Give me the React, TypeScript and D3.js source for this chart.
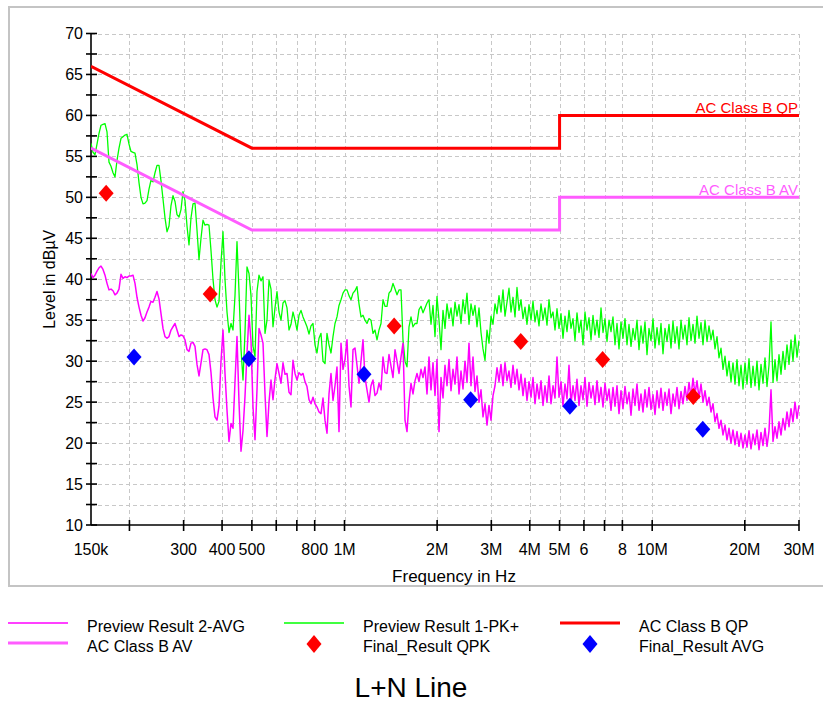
import React, { useEffect, useRef } from "react";
import * as d3 from "d3";

// sweep of the preview scans (MHz), one reading per step
const sweepStart = 0.15;
const sweepStop = 30;

// Preview Result 1-PK+ (dBµV)
const pkLevels = [
  56.6, 55.5, 55.2, 56.5, 57.8, 58.8, 58.9, 59.0, 58.0, 54.3,
  53.8, 53.0, 52.5, 54.5, 56.0, 57.2, 57.4, 57.6, 57.7, 56.5,
  55.6, 55.5, 55.4, 54.0, 51.8, 50.0, 49.2, 49.3, 49.6, 51.0,
  52.1, 51.9, 53.0, 53.9, 53.9, 52.0, 49.8, 47.5, 45.8, 46.5,
  49.0, 50.2, 49.5, 47.9, 47.6, 48.5, 50.7, 49.6, 46.5, 44.2,
  47.5, 49.2, 49.3, 46.0, 42.4, 45.0, 47.2, 46.6, 46.7, 46.6,
  43.5, 40.0, 37.5, 36.6, 37.3, 42.0, 45.8, 40.0, 36.0, 33.5,
  34.6, 33.8, 38.0, 44.6, 38.5, 31.5, 27.7, 33.5, 41.5, 40.7,
  38.0, 31.8, 30.6, 38.5, 40.5, 39.8, 40.3, 33.4, 35.0, 39.9,
  38.8, 34.2, 36.5, 38.5, 36.0, 35.0, 37.1, 37.4, 36.5, 33.8,
  34.5, 36.0, 35.0, 33.8, 35.6, 36.2, 35.4, 34.8, 34.2, 33.3,
  34.3, 34.6, 32.0, 31.0, 32.8, 33.4, 30.0, 29.7, 33.4, 32.0,
  31.0, 33.0, 34.6, 35.4, 36.8, 37.5, 38.3, 38.7, 38.7, 38.0,
  37.5, 38.3, 38.6, 39.1, 37.0, 35.4, 35.6, 35.0, 34.6, 35.2,
  35.0, 33.4, 33.8, 32.6, 33.8, 34.6, 37.5, 36.7, 36.7, 38.3,
  38.6, 39.5, 38.8, 38.1, 38.7, 38.7, 32.6, 30.0, 29.3, 34.2,
  35.4, 34.2, 34.6, 34.6, 36.3, 36.7, 35.9, 36.5, 37.1, 37.5,
  34.5, 36.8, 33.0, 37.9, 35.0, 31.4, 36.2, 34.0, 37.0, 35.2,
  36.5, 34.3, 37.2, 35.5, 36.9, 34.6, 37.5, 35.8, 38.3, 34.5,
  37.0, 35.6, 36.8, 34.2, 36.5, 33.5, 31.5, 30.1, 33.8, 32.2,
  35.5, 34.5, 37.0, 35.8, 38.0, 36.0, 38.7, 35.5, 37.2, 38.9,
  36.0, 37.8, 35.4, 39.0, 36.2, 37.5, 35.2, 36.6, 34.5, 36.9,
  35.0, 37.3, 34.8, 36.2, 34.3, 37.0, 35.0, 36.5, 34.4, 37.5,
  35.3, 36.0, 33.8, 36.4, 34.0, 35.8, 32.8, 35.5, 33.6, 36.2,
  34.0, 35.2, 32.5, 35.9, 33.5, 35.0, 32.0, 36.0, 33.8, 35.3,
  32.6, 35.6, 33.2, 35.0, 32.9, 36.5, 33.5, 35.2, 32.4, 35.0,
  33.6, 35.4, 32.0, 34.6, 31.5, 34.8, 32.8, 35.2, 32.0, 34.5,
  31.8, 34.0, 32.6, 35.0, 31.4, 34.3, 32.2, 34.8, 30.8, 34.0,
  32.5, 35.2, 31.6, 34.1, 32.0, 34.6, 30.9, 34.0, 32.4, 34.5,
  31.6, 34.9, 32.2, 34.2, 31.5, 35.0, 32.7, 34.4, 32.0, 35.3,
  32.5, 34.5, 32.2, 35.5, 32.8, 34.7, 32.0, 35.0, 32.4, 34.3,
  32.6, 33.8, 31.5, 33.0, 30.4, 31.6, 29.0, 30.6, 28.2, 30.0,
  27.5, 29.8, 27.2, 30.2, 27.0, 29.5, 26.6, 29.8, 27.2, 30.3,
  26.8, 29.4, 27.0, 30.0, 26.5, 29.6, 27.3, 30.4, 26.9, 29.5,
  34.8, 27.4, 30.2, 27.6, 30.8, 28.4, 31.2, 29.0, 32.0, 29.6,
  32.6, 30.0, 33.2, 30.5, 32.5,
];

// Preview Result 2-AVG (dBµV)
const avgLevels = [
  40.7, 40.2, 40.5, 41.0, 41.4, 41.6, 41.2, 40.5, 39.5, 38.7,
  38.8, 38.6, 38.1, 38.3, 38.8, 40.6, 40.1, 40.3, 40.2, 40.4,
  40.4, 40.5, 39.5, 37.8, 36.6, 35.6, 34.9, 35.3, 36.0, 36.6,
  37.3, 37.2, 37.8, 38.5, 37.6, 35.8, 34.0, 33.0, 32.8, 33.0,
  33.8, 34.2, 34.6, 33.8, 33.0, 33.2, 33.1, 32.6, 31.4, 31.2,
  32.2, 32.3, 31.8, 29.6, 28.2, 29.8, 31.4, 31.5, 31.4, 30.8,
  28.6, 25.5, 23.2, 22.8, 24.5, 30.0, 33.8, 28.5, 24.0, 20.2,
  22.4, 21.8, 27.5, 33.0, 25.0, 19.0, 21.5, 25.7, 31.0, 35.6,
  32.5, 24.4, 20.4, 26.5, 34.0, 33.2, 32.2, 26.0, 20.8, 25.0,
  27.7, 25.3, 27.8, 29.7, 28.5, 27.3, 29.8, 28.4, 28.5, 26.2,
  25.9, 30.1, 28.5, 27.7, 28.6, 28.3, 28.5, 27.5, 26.9, 25.3,
  24.8, 25.6, 24.8, 24.4, 23.8, 23.6, 25.5, 22.8, 21.2, 26.0,
  28.5, 25.2, 27.0, 29.3, 21.4, 32.2, 29.0, 30.2, 32.6, 27.0,
  24.4, 31.4, 31.6, 29.5, 27.3, 30.0, 32.6, 28.0, 26.5, 25.0,
  27.0, 27.7, 25.8, 26.1, 27.3, 26.5, 30.5, 28.6, 28.5, 30.8,
  29.4, 28.0, 31.4, 30.0, 28.5, 30.5, 32.2, 22.8, 21.4, 25.0,
  27.3, 26.0, 27.6, 28.5, 27.5, 29.0, 28.0, 29.3, 26.0, 30.5,
  26.5, 29.8, 25.8, 30.2, 21.4, 28.0, 25.5, 29.5, 27.0, 30.2,
  26.4, 29.0, 27.2, 30.5, 26.0, 28.8, 26.6, 30.0, 27.4, 32.2,
  27.0, 30.5, 26.3, 28.2, 25.0, 26.5, 23.2, 24.8, 22.2, 24.6,
  22.8, 25.8, 27.0, 29.2, 27.5, 29.6, 27.0, 29.8, 27.6, 28.8,
  26.8, 29.5, 27.2, 29.0, 26.5, 28.4, 25.8, 27.9, 25.2, 27.5,
  25.6, 28.0, 24.8, 27.2, 25.4, 27.6, 24.6, 27.0, 25.0, 28.2,
  24.8, 27.0, 25.5, 30.5, 25.6, 27.5, 24.5, 27.2, 25.4, 29.5,
  24.8, 27.0, 25.2, 27.8, 24.6, 27.0, 25.3, 28.0, 24.5, 27.4,
  25.5, 27.0, 24.7, 27.6, 25.0, 26.8, 24.4, 27.3, 25.2, 26.6,
  24.0, 26.8, 24.5, 27.0, 23.6, 26.4, 24.2, 26.9, 24.8, 26.2,
  23.4, 26.6, 24.6, 27.2, 24.0, 26.0, 23.8, 26.5, 24.4, 26.8,
  24.1, 25.9, 23.5, 26.4, 24.3, 26.7, 24.0, 26.2, 24.6, 26.6,
  23.6, 26.0, 24.5, 26.8, 24.2, 26.3, 24.8, 26.9, 25.2, 27.4,
  25.6, 27.9, 26.0, 27.6, 25.5, 27.2, 25.0, 26.4, 24.6, 25.6,
  23.8, 24.8, 22.6, 23.6, 21.8, 22.8, 21.0, 22.2, 20.4, 21.8,
  20.0, 21.6, 19.8, 21.4, 19.6, 21.2, 19.4, 21.0, 19.5, 21.5,
  19.3, 21.1, 19.8, 21.6, 19.2, 21.3, 19.7, 21.8, 19.6, 21.5,
  26.5, 20.2, 22.0, 20.6, 22.6, 21.0, 23.0, 21.6, 23.8, 22.0,
  24.2, 22.6, 25.0, 23.0, 24.6,
];

// limit lines (MHz / dBµV)
const qpLimitFreq = [0.15, 0.5, 5, 5, 30];
const qpLimitLevel = [66, 56, 56, 60, 60];
const avLimitFreq = [0.15, 0.5, 5, 5, 30];
const avLimitLevel = [56, 46, 46, 50, 50];

// final measurements
const qpkFreq = [0.168, 0.366, 1.45, 3.74, 6.9, 13.6];
const qpkLevel = [50.5, 38.2, 34.3, 32.4, 30.2, 25.7];
const finalAvgFreq = [0.207, 0.489, 1.157, 2.57, 5.4, 14.6];
const finalAvgLevel = [30.5, 30.3, 28.4, 25.3, 24.5, 21.7];

// axes
const xGridTicks = [0.2, 0.3, 0.4, 0.5, 0.6, 0.7, 0.8, 1, 2, 3, 4, 5, 6, 7, 8, 10, 20, 30];
const xLabelTicks = [0.15, 0.3, 0.4, 0.5, 0.8, 1, 2, 3, 4, 5, 6, 8, 10, 20, 30];
const xLabelTexts = ["150k", "300", "400", "500", "800", "1M", "2M", "3M", "4M", "5M", "6", "8", "10M", "20M", "30M"];
const yMinorTicks = d3.range(10, 70.001, 2.5);
const yLabelTicks = [10, 15, 20, 25, 30, 35, 40, 45, 50, 55, 60, 65, 70];

const FONT = "'Liberation Sans', Arial, Helvetica, sans-serif";
const W = 823;
const H = 702;

function diamond(cx: number, cy: number, hw: number, hh: number) {
  return `M${cx},${cy - hh}L${cx + hw},${cy}L${cx},${cy + hh}L${cx - hw},${cy}Z`;
}

export default function App() {
  const ref = useRef<SVGSVGElement | null>(null);

  useEffect(() => {
    const svg = d3.select(ref.current);
    svg.selectAll("*").remove();

    const x = d3.scaleLog().domain([0.15, 30]).range([91, 799]);
    const y = d3.scaleLinear().domain([10, 70]).range([525, 33.5]);
    const [x0, x1] = x.range();
    const [y0, y1] = y.range();

    const defs = svg.append("defs");
    defs.append("clipPath").attr("id", "frame-clip")
      .append("rect").attr("x", 9).attr("y", 7).attr("width", 830).attr("height", 579);
    defs.append("clipPath").attr("id", "plot-clip")
      .append("rect").attr("x", x0).attr("y", y1 - 2).attr("width", x1 - x0 + 1).attr("height", y0 - y1 + 2);

    svg.append("rect").attr("width", W).attr("height", H).attr("fill", "#fff");

    // outer frame
    svg.append("rect")
      .attr("x", 9).attr("y", 7).attr("width", 830).attr("height", 579)
      .attr("fill", "none").attr("stroke", "#c4c4c4").attr("stroke-width", 2);

    // grid
    const grid = svg.append("g").attr("stroke", "#c8c8c8").attr("stroke-width", 1)
      .attr("stroke-dasharray", "4,3").attr("shape-rendering", "crispEdges");
    grid.selectAll("line.h").data(yMinorTicks.filter((d) => d > 10)).enter().append("line")
      .attr("x1", x0).attr("x2", x1)
      .attr("y1", (d) => Math.round(y(d)) + 0.5).attr("y2", (d) => Math.round(y(d)) + 0.5);
    grid.selectAll("line.v").data(xGridTicks).enter().append("line")
      .attr("x1", (d) => Math.round(x(d)) + 0.5).attr("x2", (d) => Math.round(x(d)) + 0.5)
      .attr("y1", y1).attr("y2", y0);

    // axes
    const axes = svg.append("g").attr("stroke", "#000").attr("stroke-width", 1.6);
    axes.append("line").attr("x1", x0).attr("x2", x0).attr("y1", y1).attr("y2", y0);
    axes.append("line").attr("x1", x0).attr("x2", x1).attr("y1", y0).attr("y2", y0);
    axes.selectAll("line.yt").data(yMinorTicks).enter().append("line")
      .attr("x1", x0 - 5).attr("x2", x0 + 6)
      .attr("y1", (d) => y(d)).attr("y2", (d) => y(d));
    axes.selectAll("line.xt").data(xGridTicks).enter().append("line")
      .attr("x1", (d) => x(d)).attr("x2", (d) => x(d))
      .attr("y1", y0 - 5).attr("y2", y0 + 6);

    svg.append("g").selectAll("text").data(yLabelTicks).enter().append("text")
      .attr("x", 83).attr("y", (d) => y(d)).attr("dy", "0.36em")
      .attr("text-anchor", "end").attr("font-family", FONT).attr("font-size", 16)
      .text((d) => d);

    svg.append("g").selectAll("text").data(xLabelTicks).enter().append("text")
      .attr("x", (d) => x(d)).attr("y", 555)
      .attr("text-anchor", "middle").attr("font-family", FONT).attr("font-size", 16)
      .text((d, i) => xLabelTexts[i]);

    svg.append("text")
      .attr("transform", `translate(55, ${(y0 + y1) / 2}) rotate(-90)`)
      .attr("text-anchor", "middle").attr("font-family", FONT).attr("font-size", 16)
      .text("Level in dBµV");

    svg.append("text")
      .attr("clip-path", "url(#frame-clip)")
      .attr("x", 454).attr("y", 582)
      .attr("text-anchor", "middle").attr("font-family", FONT).attr("font-size", 17)
      .text("Frequency in Hz");

    // traces
    const plot = svg.append("g").attr("clip-path", "url(#plot-clip)");
    const sweepFreq = (i: number, n: number) =>
      sweepStart * Math.pow(sweepStop / sweepStart, i / (n - 1));
    const trace = (levels: number[]) =>
      d3.line<number>()
        .x((d, i) => x(sweepFreq(i, levels.length)))
        .y((d) => y(d))(levels);

    plot.append("path").attr("d", trace(pkLevels))
      .attr("fill", "none").attr("stroke", "#00ff00").attr("stroke-width", 1.3)
      .attr("stroke-linejoin", "round");
    plot.append("path").attr("d", trace(avgLevels))
      .attr("fill", "none").attr("stroke", "#ff00ff").attr("stroke-width", 1.5)
      .attr("stroke-linejoin", "round");

    const limit = (fs: number[], ls: number[]) =>
      d3.line<number>().x((d) => x(d)).y((d, i) => y(ls[i]))(fs);
    plot.append("path").attr("d", limit(qpLimitFreq, qpLimitLevel))
      .attr("fill", "none").attr("stroke", "#ff0000").attr("stroke-width", 3);
    plot.append("path").attr("d", limit(avLimitFreq, avLimitLevel))
      .attr("fill", "none").attr("stroke", "#ff5cff").attr("stroke-width", 3);

    svg.append("text").attr("x", x1 - 1).attr("y", y(60) - 2)
      .attr("text-anchor", "end").attr("font-family", FONT).attr("font-size", 15)
      .attr("fill", "#ff0000").text("AC Class B QP");
    svg.append("text").attr("x", x1 - 1).attr("y", y(50) - 2)
      .attr("text-anchor", "end").attr("font-family", FONT).attr("font-size", 15)
      .attr("fill", "#ff5cff").text("AC Class B AV");

    // final result markers
    svg.append("g").selectAll("path").data(qpkFreq).enter().append("path")
      .attr("d", (d, i) => diamond(x(d), y(qpkLevel[i]), 7.5, 8.5))
      .attr("fill", "#ff0000");
    svg.append("g").selectAll("path").data(finalAvgFreq).enter().append("path")
      .attr("d", (d, i) => diamond(x(d), y(finalAvgLevel[i]), 7.5, 8.5))
      .attr("fill", "#0000ff");

    // legend
    const leg = svg.append("g").attr("font-family", FONT).attr("font-size", 16);
    const lineItem = (lx: number, ly: number, color: string, w: number, label: string) => {
      leg.append("line").attr("x1", lx).attr("x2", lx + 60).attr("y1", ly).attr("y2", ly)
        .attr("stroke", color).attr("stroke-width", w);
      leg.append("text").attr("x", lx + 79).attr("y", ly + 9).text(label);
    };
    const markItem = (lx: number, ly: number, color: string, label: string) => {
      leg.append("path").attr("d", diamond(lx + 30, ly + 1, 7.5, 9)).attr("fill", color);
      leg.append("text").attr("x", lx + 79).attr("y", ly + 9).text(label);
    };
    lineItem(8, 623, "#ff00ff", 1.5, "Preview  Result 2-AVG");
    lineItem(284, 623, "#00ff00", 1.5, "Preview  Result 1-PK+");
    lineItem(560, 623, "#ff0000", 3, "AC Class B QP");
    lineItem(8, 643, "#ff5cff", 3, "AC Class B AV");
    markItem(284, 643, "#ff0000", "Final_Result QPK");
    markItem(560, 643, "#0000ff", "Final_Result AVG");

    svg.append("text").attr("x", 411).attr("y", 697)
      .attr("text-anchor", "middle").attr("font-family", FONT).attr("font-size", 28)
      .text("L+N Line");
  }, []);

  return (
    <svg
      ref={ref}
      width={W}
      height={H}
      style={{ position: "absolute", left: 0, top: 0, background: "#fff" }}
    />
  );
}
